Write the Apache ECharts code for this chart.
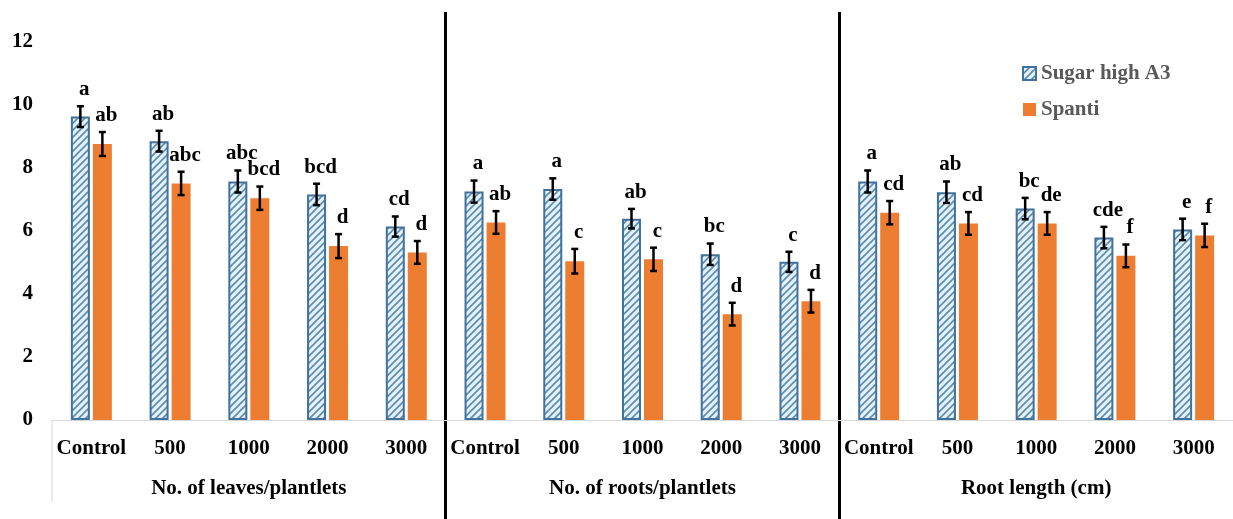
<!DOCTYPE html>
<html><head><meta charset="utf-8">
<script src="https://cdn.jsdelivr.net/npm/echarts@6/dist/echarts.min.js"></script>
<style>html,body{margin:0;padding:0;background:#fff;overflow:hidden}#c{width:1233px;height:519px}</style>
</head><body><div id="c"></div>
<script>
// ---- data ----
const categories = ['Control','500','1000','2000','3000','Control','500','1000','2000','3000','Control','500','1000','2000','3000'];
const groupTitles = ['No. of leaves/plantlets','No. of roots/plantlets','Root length (cm)'];
const yTicks = [0,2,4,6,8,10,12];
const seriesNames = ['Sugar high A3','Spanti'];
const sugar     = [9.63, 8.85, 7.57, 7.16, 6.14, 7.25, 7.33, 6.39, 5.26, 5.02, 7.57, 7.23, 6.71, 5.79, 6.05];
const spanti    = [8.76, 7.51, 7.04, 5.52, 5.32, 6.27, 5.04, 5.10, 3.36, 3.77, 6.58, 6.24, 6.24, 5.21, 5.86];
const sugarErr  = [0.33, 0.33, 0.35, 0.34, 0.32, 0.35, 0.34, 0.31, 0.34, 0.32, 0.35, 0.34, 0.34, 0.34, 0.34];
const spantiErr = [0.38, 0.37, 0.37, 0.38, 0.36, 0.36, 0.39, 0.37, 0.36, 0.36, 0.37, 0.36, 0.36, 0.36, 0.37];
const sugarLetters  = ['a','ab','abc','bcd','cd','a','a','ab','bc','c','a','ab','bc','cde','e'];
const spantiLetters = ['ab','abc','bcd','d','d','ab','c','c','d','d','cd','cd','de','f','f'];

// ---- style ----
const FONT = 'Liberation Serif';
const BAR_W = 19, GAP = 3;
function hatch(){
  const c = document.createElement('canvas'); c.width = 7; c.height = 7;
  const g = c.getContext('2d');
  g.fillStyle = '#e4f1f8'; g.fillRect(0,0,7,7);
  g.strokeStyle = '#5b8cb4'; g.lineWidth = 1.6; g.beginPath();
  g.moveTo(-1,8); g.lineTo(8,-1); g.moveTo(-1,1); g.lineTo(1,-1); g.moveTo(6,8); g.lineTo(8,6);
  g.stroke(); return c;
}
const hatchImg = hatch();

function errRender(sign, letters){
  return function(params, api){
    const i = api.value(0), v = api.value(1), e = api.value(2);
    const top = api.coord([i, v + e]); const bot = api.coord([i, v - e]);
    const x = top[0] + sign * (BAR_W + GAP) / 2;
    const cap = 3.5, st = {stroke:'#000', lineWidth:2.5};
    return {type:'group', children:[
      {type:'line', shape:{x1:x,y1:top[1],x2:x,y2:bot[1]}, style:st},
      {type:'line', shape:{x1:x-cap,y1:top[1],x2:x+cap,y2:top[1]}, style:st},
      {type:'line', shape:{x1:x-cap,y1:bot[1],x2:x+cap,y2:bot[1]}, style:st},
      {type:'text', x: x + 4, y: top[1] - 6, style:{text: letters[params.dataIndex], fill:'#000',
        font:'bold 21px "' + FONT + '"', textAlign:'center', textVerticalAlign:'bottom'}}
    ]};
  };
}

const chart = echarts.init(document.getElementById('c'), null, {renderer:'canvas'});
const sepIdx = (idx) => idx === 5 || idx === 10;
const sepLine = {show: true, interval: sepIdx, showMaxLine: false,
  lineStyle: {color: '#000', width: 3}};
chart.setOption({
  animation: false,
  backgroundColor: '#fff',
  grid: [
    {left: 52, top: 12, width: 1181, bottom: 99, containLabel: false},
    {left: 52, top: 420, width: 1181, bottom: 0, containLabel: false}
  ],
  legend: {
    data: seriesNames, orient: 'vertical', left: 1022, top: 63, padding: 0,
    itemWidth: 13, itemHeight: 13, itemGap: 15, icon: 'rect',
    textStyle: {fontFamily: FONT, fontWeight: 'bold', fontSize: 21, color: '#595959'}
  },
  xAxis: [{
    type: 'category', data: categories, boundaryGap: true, gridIndex: 0,
    axisLine: {show: true, lineStyle: {color: '#d9d9d9', width: 1}},
    axisTick: {show: false},
    splitLine: sepLine,
    axisLabel: {interval: 0, margin: 18, color: '#000', fontFamily: FONT, fontWeight: 'bold', fontSize: 21}
  }, {
    type: 'category', data: groupTitles, position: 'bottom', boundaryGap: true, gridIndex: 0,
    axisLine: {show: false}, axisTick: {show: false}, splitLine: {show: false},
    axisLabel: {interval: 0, margin: 58, color: '#000', fontFamily: FONT, fontWeight: 'bold', fontSize: 21}
  }, {
    type: 'category', data: categories, boundaryGap: true, gridIndex: 1,
    axisLine: {show: false}, axisTick: {show: false}, axisLabel: {show: false},
    splitLine: sepLine
  }],
  yAxis: [{
    type: 'value', min: 0, max: 12.95, interval: 2, gridIndex: 0,
    axisLine: {show: false}, axisTick: {show: false}, splitLine: {show: false},
    axisLabel: {margin: 19, color: '#000', fontFamily: FONT, fontWeight: 'bold', fontSize: 21,
      formatter: v => (yTicks.indexOf(v) >= 0 ? String(v) : '')}
  }, {
    type: 'value', gridIndex: 1, min: 0, max: 1, show: false
  }],
  series: [
    {name: seriesNames[0], type: 'bar', data: sugar, barWidth: BAR_W, barGap: (GAP / BAR_W * 100) + '%',
     itemStyle: {color: {image: hatchImg, repeat: 'repeat'}, borderColor: '#41719c', borderWidth: 2}},
    {name: seriesNames[1], type: 'bar', data: spanti, barWidth: BAR_W,
     itemStyle: {color: '#ed7d31'}},
    {type: 'custom', z: 5, data: sugar.map((v, i) => [i, v, sugarErr[i]]), encode: {x: 0, y: 1},
     renderItem: errRender(-1, sugarLetters)},
    {type: 'custom', z: 5, data: spanti.map((v, i) => [i, v, spantiErr[i]]), encode: {x: 0, y: 1},
     renderItem: errRender(1, spantiLetters)}
  ]
});
// light grey frame line at left edge of the category label area
const p0 = chart.convertToPixel({xAxisIndex: 0, yAxisIndex: 0}, [0, 0]);
const p1 = chart.convertToPixel({xAxisIndex: 0, yAxisIndex: 0}, [1, 0]);
const leftX = p0[0] - (p1[0] - p0[0]) / 2;
chart.setOption({graphic: [{type: 'line', shape: {x1: leftX, y1: p0[1], x2: leftX, y2: p0[1] + 82},
  style: {stroke: '#d9d9d9', lineWidth: 1}}]});
</script></body></html>
